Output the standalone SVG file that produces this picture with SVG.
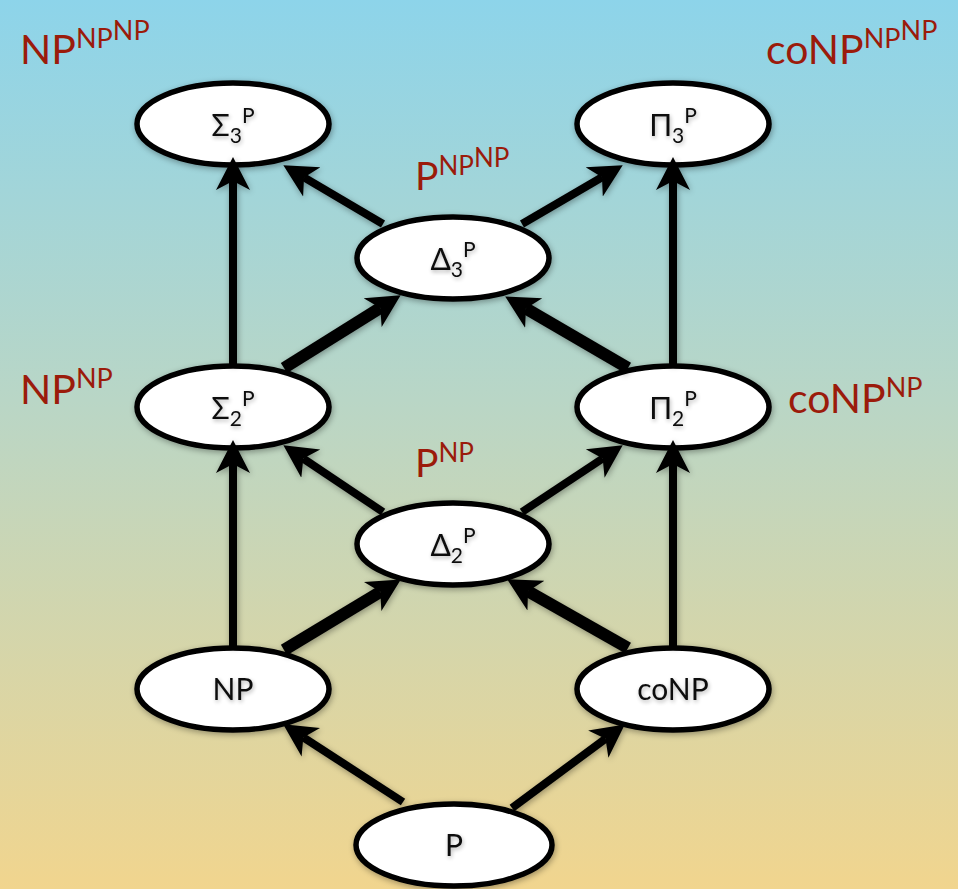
<svg xmlns="http://www.w3.org/2000/svg" width="958" height="889" viewBox="0 0 958 889">
<defs>
<linearGradient id="bg" x1="0" y1="0" x2="0" y2="1">
<stop offset="0" stop-color="#8dd4ea"/>
<stop offset="0.45" stop-color="#b9d6c6"/>
<stop offset="1" stop-color="#f1d58e"/>
</linearGradient>
<filter id="sh" x="-20%" y="-20%" width="140%" height="140%">
<feGaussianBlur in="SourceAlpha" stdDeviation="3"/>
<feOffset dx="1" dy="2"/>
<feComponentTransfer><feFuncA type="linear" slope="0.35"/></feComponentTransfer>
<feMerge><feMergeNode/><feMergeNode in="SourceGraphic"/></feMerge>
</filter>
<filter id="tsh" x="-30%" y="-30%" width="160%" height="160%">
<feGaussianBlur in="SourceAlpha" stdDeviation="2"/>
<feOffset dx="1" dy="2"/>
<feComponentTransfer><feFuncA type="linear" slope="0.3"/></feComponentTransfer>
<feMerge><feMergeNode/><feMergeNode in="SourceGraphic"/></feMerge>
</filter>
<marker id="ah" markerUnits="userSpaceOnUse" markerWidth="34" markerHeight="36" viewBox="0 0 34 36" refX="9" refY="18" orient="auto">
<path d="M0,1 L33,18 L0,35 L9,18 Z" fill="#000"/>
</marker>
</defs>
<style>
.node ellipse{fill:#fff;stroke:#000;stroke-width:5.5}
.node text{font-family:"Lato","Noto Sans",sans-serif;font-size:30px;fill:#111;text-anchor:middle}
.sm{font-size:21px}
.lbl{font-family:"Lato","Noto Sans",sans-serif;fill:#9b1b0b}
.c line{stroke:#000;stroke-width:8;marker-end:url(#ah)}
.c line.thick{stroke-width:12}
</style>
<rect x="0" y="0" width="958" height="889" fill="url(#bg)"/>

<g class="lbl">
<text x="20" y="64" font-size="41">NP<tspan font-size="27" dy="-16">NP</tspan><tspan font-size="27" dy="-8">NP</tspan></text>
<text x="766" y="64" font-size="41">coNP<tspan font-size="27" dy="-16">NP</tspan><tspan font-size="27" dy="-8">NP</tspan></text>
<text x="415" y="190" font-size="39">P<tspan font-size="26" dy="-15">NP</tspan><tspan font-size="26" dy="-8">NP</tspan></text>
<text x="20" y="404" font-size="41">NP<tspan font-size="27" dy="-16">NP</tspan></text>
<text x="788" y="413" font-size="41">coNP<tspan font-size="27" dy="-16">NP</tspan></text>
<text x="415" y="477" font-size="39">P<tspan font-size="26" dy="-15">NP</tspan></text>
</g>

<g id="sigma3" class="node" filter="url(#sh)"><ellipse cx="233" cy="124" rx="96" ry="41"/><text x="233" y="136" filter="url(#tsh)">Σ<tspan class="sm" dy="7">3</tspan><tspan class="sm" dy="-20">P</tspan></text></g>
<g id="pi3" class="node" filter="url(#sh)"><ellipse cx="673" cy="124" rx="96" ry="41"/><text x="673" y="136" filter="url(#tsh)">Π<tspan class="sm" dy="7">3</tspan><tspan class="sm" dy="-20">P</tspan></text></g>
<g id="delta3" class="node" filter="url(#sh)"><ellipse cx="453" cy="258" rx="96" ry="41"/><text x="453" y="270" filter="url(#tsh)">Δ<tspan class="sm" dy="7">3</tspan><tspan class="sm" dy="-20">P</tspan></text></g>
<g id="sigma2" class="node" filter="url(#sh)"><ellipse cx="233" cy="407" rx="96" ry="41"/><text x="233" y="419" filter="url(#tsh)">Σ<tspan class="sm" dy="7">2</tspan><tspan class="sm" dy="-20">P</tspan></text></g>
<g id="pi2" class="node" filter="url(#sh)"><ellipse cx="673" cy="407" rx="96" ry="41"/><text x="673" y="419" filter="url(#tsh)">Π<tspan class="sm" dy="7">2</tspan><tspan class="sm" dy="-20">P</tspan></text></g>
<g id="delta2" class="node" filter="url(#sh)"><ellipse cx="453" cy="544" rx="96" ry="41"/><text x="453" y="556" filter="url(#tsh)">Δ<tspan class="sm" dy="7">2</tspan><tspan class="sm" dy="-20">P</tspan></text></g>
<g id="np" class="node" filter="url(#sh)"><ellipse cx="233" cy="689" rx="96" ry="41"/><text x="233" y="700" filter="url(#tsh)">NP</text></g>
<g id="conp" class="node" filter="url(#sh)"><ellipse cx="673" cy="689" rx="96" ry="41"/><text x="673" y="700" filter="url(#tsh)">coNP</text></g>
<g id="p" class="node" filter="url(#sh)"><ellipse cx="454" cy="845" rx="98" ry="41"/><text x="454" y="856" filter="url(#tsh)">P</text></g>

<g id="connectors" class="c" filter="url(#sh)">
<line x1="233" y1="364" x2="233" y2="181"/>
<line x1="673" y1="364" x2="673" y2="181"/>
<line x1="233" y1="646" x2="233" y2="464"/>
<line x1="673" y1="646" x2="673" y2="464"/>
<line x1="383" y1="224" x2="304" y2="177.4"/>
<line x1="522" y1="224" x2="602" y2="177.3"/>
<line class="thick" x1="284" y1="368" x2="380.3" y2="307.9"/>
<line class="thick" x1="628" y1="368" x2="525.9" y2="308.5"/>
<line x1="383" y1="512" x2="303.3" y2="458.6"/>
<line x1="522" y1="512" x2="602.7" y2="458.5"/>
<line class="thick" x1="284" y1="650" x2="380.3" y2="591.8"/>
<line class="thick" x1="628" y1="648" x2="528" y2="591.2"/>
<line x1="403" y1="802" x2="303.3" y2="737.4"/>
<line x1="512" y1="808" x2="605.5" y2="738.7"/>
</g>
</svg>
